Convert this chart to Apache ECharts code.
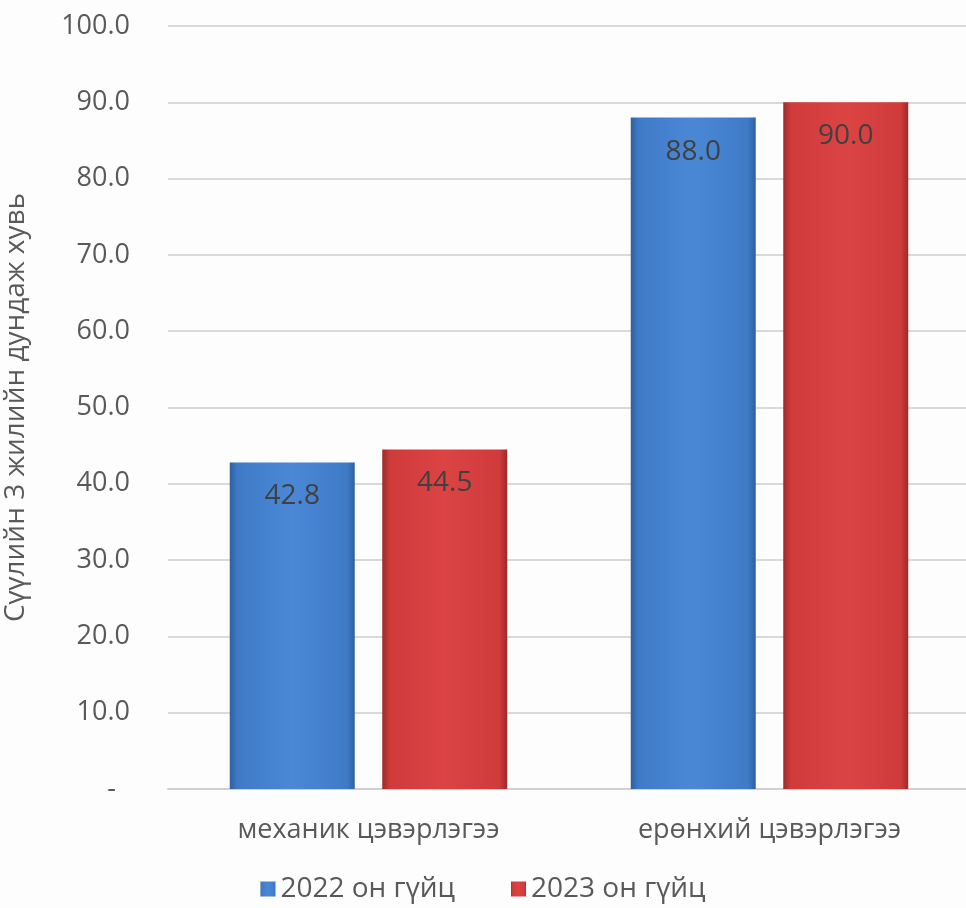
<!DOCTYPE html>
<html>
<head>
<meta charset="utf-8">
<script src="https://cdn.jsdelivr.net/npm/echarts@6/dist/echarts.min.js"></script>
<style>
html,body{margin:0;padding:0;background:#fdfdfd;}
#chart{width:966px;height:908px;}
</style>
</head>
<body>
<div id="chart"></div>
<script>
const categories = ['механик цэвэрлэгээ', 'ерөнхий цэвэрлэгээ'];
const seriesNames = ['2022 он гүйц', '2023 он гүйц'];
const values2022 = [42.8, 88.0];
const values2023 = [44.5, 90.0];
const yAxisName = 'Сүүлийн 3 жилийн дундаж хувь';

const FONT = '"Open Sans", "Noto Sans", sans-serif';

function bevel(dark, mid, light) {
  return new echarts.graphic.LinearGradient(0, 0, 1, 0, [
    {offset: 0, color: dark},
    {offset: 0.06, color: mid},
    {offset: 0.5, color: light},
    {offset: 0.94, color: mid},
    {offset: 1, color: dark}
  ]);
}

const chart = echarts.init(document.getElementById('chart'), null, {renderer: 'canvas'});
const labelCfg = {
  show: true,
  position: 'insideTop',
  distance: 20,
  color: '#404040',
  fontSize: 28,
  fontFamily: FONT,
  formatter: p => p.value.toFixed(1)
};
chart.setOption({
  backgroundColor: '#fdfdfd',
  animation: false,
  grid: {left: 168, right: -4, top: 26, bottom: 119, containLabel: false, outerBoundsMode: 'none'},
  legend: {
    bottom: 0,
    left: 'center',
    itemWidth: 15,
    itemHeight: 15,
    itemGap: 56,
    icon: 'rect',
    textStyle: {fontSize: 28, color: '#595959', fontFamily: FONT},
    data: seriesNames
  },
  xAxis: {
    type: 'category',
    data: categories,
    axisLine: {lineStyle: {color: '#d0d0d0', width: 2}},
    axisTick: {show: false},
    axisLabel: {fontSize: 27, color: '#595959', fontFamily: FONT, margin: 28}
  },
  yAxis: {
    type: 'value',
    min: 0,
    max: 100,
    interval: 10,
    name: yAxisName,
    nameLocation: 'middle',
    nameGap: 138,
    nameTextStyle: {fontSize: 28, color: '#595959', fontFamily: FONT},
    axisLine: {show: false},
    axisTick: {show: false},
    splitLine: {lineStyle: {color: '#d9d9d9', width: 2}},
    axisLabel: {
      fontSize: 27, color: '#595959', fontFamily: FONT, margin: 38,
      formatter: v => v === 0 ? '-  ' : v.toFixed(1)
    }
  },
  series: [
    {
      name: seriesNames[0],
      type: 'bar',
      data: values2022,
      barWidth: 125,
      barGap: '22%',
      itemStyle: {color: bevel('#2f5f9f', '#3f7ac6', '#4a88d6'), borderWidth: 0},
      label: labelCfg
    },
    {
      name: seriesNames[1],
      type: 'bar',
      data: values2023,
      barWidth: 125,
      itemStyle: {color: bevel('#9c2a2a', '#cf3a3a', '#dc4444'), borderWidth: 0},
      label: labelCfg
    }
  ]
});
</script>
</body>
</html>
